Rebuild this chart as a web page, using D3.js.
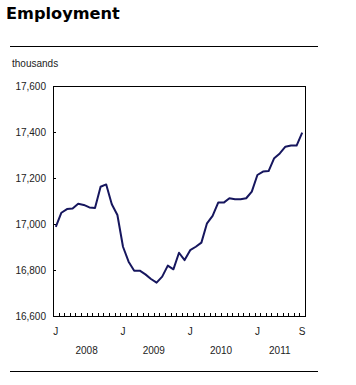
<!DOCTYPE html>
<html>
<head>
<meta charset="utf-8">
<script src="https://cdn.jsdelivr.net/npm/d3@7"></script>
<style>
  body { margin: 0; background: #fff; }
  svg { display: block; }
  .title { font-family: "DejaVu Sans", Verdana, sans-serif; font-weight: bold; font-size: 16.2px; }
  .lbl { font-family: "Liberation Sans", Arial, sans-serif; font-size: 10px; fill: #222; }
</style>
</head>
<body>
<svg id="chart" width="356" height="385"></svg>
<script>
// Monthly employment, thousands, Jan 2008 – Sep 2011
const employment = [
  16988, 17049, 17065, 17067, 17088, 17083, 17072, 17070, 17162, 17172, 17086, 17039,
  16901, 16836, 16797, 16797, 16781, 16761, 16745, 16771, 16819, 16803, 16875, 16843,
  16886, 16901, 16919, 17003, 17035, 17093, 17093, 17112, 17108, 17108, 17112, 17141,
  17213, 17228, 17230, 17286, 17307, 17336, 17341, 17341, 17397
];
const yTicks = [16600, 16800, 17000, 17200, 17400, 17600];
const monthLabels = [
  { i: 0, text: "J" }, { i: 12, text: "J" }, { i: 24, text: "J" }, { i: 36, text: "J" }, { i: 44, text: "S" }
];
const yearLabels = [
  { from: 0, to: 11, text: "2008" },
  { from: 12, to: 23, text: "2009" },
  { from: 24, to: 35, text: "2010" },
  { from: 36, to: 44, text: "2011" }
];

const svg = d3.select("#chart");
const plot = { left: 53, right: 305, top: 86, bottom: 316 };

const idx = d3.range(employment.length);
const x = d3.scaleBand().domain(idx).range([plot.left, plot.right]);
const xc = (i) => x(i) + x.bandwidth() / 2;
const y = d3.scaleLinear().domain([16600, 17600]).range([plot.bottom, plot.top]);

svg.append("text").attr("class", "title").attr("x", 6).attr("y", 18.5).text("Employment");

svg.append("line").attr("x1", 10).attr("x2", 318).attr("y1", 46.5).attr("y2", 46.5)
  .attr("stroke", "#000").attr("stroke-width", 1);
svg.append("line").attr("x1", 10).attr("x2", 318).attr("y1", 371.5).attr("y2", 371.5)
  .attr("stroke", "#000").attr("stroke-width", 1);

svg.append("text").attr("class", "lbl").attr("x", 12).attr("y", 67).text("thousands");

// y labels
svg.append("g").selectAll("text").data(yTicks).join("text")
  .attr("class", "lbl")
  .attr("x", 46)
  .attr("y", (d) => y(d) + 3.5)
  .attr("text-anchor", "end")
  .text((d) => d3.format(",")(d));

// inward tick marks on left axis
svg.append("g").selectAll("line").data(yTicks.slice(1, -1)).join("line")
  .attr("x1", plot.left).attr("x2", plot.left + 3)
  .attr("y1", (d) => Math.round(y(d)) + 0.5).attr("y2", (d) => Math.round(y(d)) + 0.5)
  .attr("stroke", "#000");

// month ticks along bottom
const tickXs = idx.map((i) => x(i)).concat([plot.right]);
svg.append("g").selectAll("line").data(tickXs).join("line")
  .attr("x1", (d) => Math.round(d) + 0.5).attr("x2", (d) => Math.round(d) + 0.5)
  .attr("y1", plot.bottom).attr("y2", plot.bottom - 3)
  .attr("stroke", "#000");

// plot frame
svg.append("rect")
  .attr("x", plot.left + 0.5).attr("y", plot.top + 0.5)
  .attr("width", plot.right - plot.left).attr("height", plot.bottom - plot.top)
  .attr("fill", "none").attr("stroke", "#000").attr("stroke-width", 1);

svg.append("path")
  .datum(employment)
  .attr("fill", "none")
  .attr("stroke", "#16165e")
  .attr("stroke-width", 2)
  .attr("stroke-linejoin", "round")
  .attr("d", d3.line().x((d, i) => xc(i)).y((d) => y(d)));

svg.append("g").selectAll("text").data(monthLabels).join("text")
  .attr("class", "lbl")
  .attr("x", (d) => xc(d.i))
  .attr("y", 335)
  .attr("text-anchor", "middle")
  .text((d) => d.text);

svg.append("g").selectAll("text").data(yearLabels).join("text")
  .attr("class", "lbl")
  .attr("x", (d) => (xc(d.from) + xc(d.to)) / 2)
  .attr("y", 354)
  .attr("text-anchor", "middle")
  .text((d) => d.text);
</script>
</body>
</html>
